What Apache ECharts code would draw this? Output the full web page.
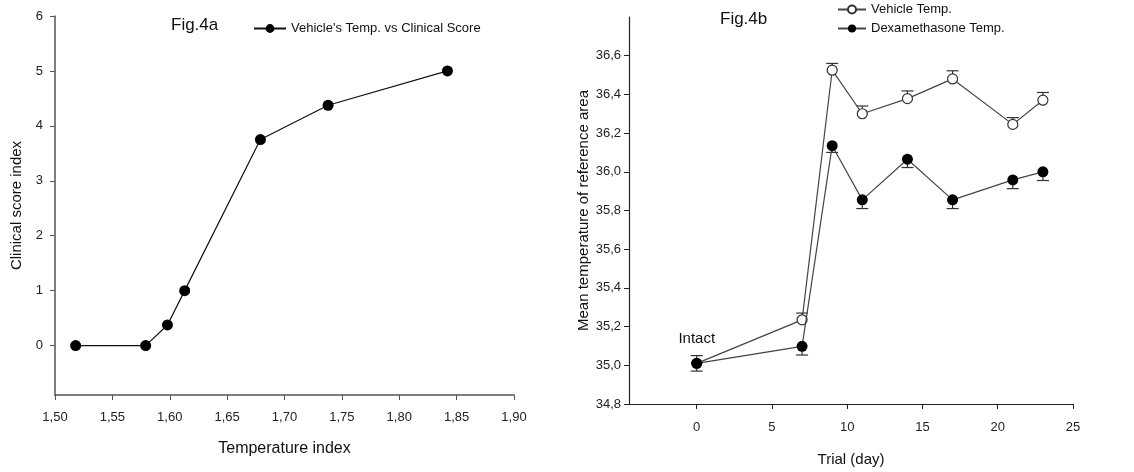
<!DOCTYPE html>
<html>
<head>
<meta charset="utf-8">
<script src="https://cdn.jsdelivr.net/npm/echarts@6/dist/echarts.min.js"></script>
<style>
  html, body { margin: 0; padding: 0; background: #fff; }
  #main { width: 1134px; height: 472px; }
</style>
</head>
<body>
<div id="main"></div>
<script>
var chart = echarts.init(document.getElementById('main'));

// Fig.4a : temperature index vs clinical score
var tempIndex = [1.518, 1.579, 1.598, 1.613, 1.679, 1.738, 1.842];
var clinicalScore = [0, 0, 0.375, 1, 3.75, 4.375, 5];
var scoreTicks = [0, 1, 2, 3, 4, 5, 6];
var tempTicks = [1.50, 1.55, 1.60, 1.65, 1.70, 1.75, 1.80, 1.85, 1.90];

// Fig.4b : mean temperature over trial days
var trialDays = [0, 7, 9, 11, 14, 17, 21, 23];
var vehicleTemp = [35.01, 35.235, 36.525, 36.30, 36.378, 36.48, 36.245, 36.37];
var vehicleUpper = [35.05, 35.27, 36.56, 36.34, 36.418, 36.522, 36.28, 36.41];
var dexTemp = [35.01, 35.098, 36.135, 35.855, 36.065, 35.855, 35.958, 36.0];
var dexLower = [34.97, 35.053, 36.10, 35.81, 36.022, 35.81, 35.913, 35.955];
var dayTicks = [0, 5, 10, 15, 20, 25];
var meanTempTicks = [34.8, 35.0, 35.2, 35.4, 35.6, 35.8, 36.0, 36.2, 36.4, 36.6];

var font = 'Liberation Sans, Arial, sans-serif';

function pairs(xs, ys) {
    return xs.map(function (x, i) { return [x, ys[i]]; });
}

function comma(d) {
    return function (v) { return v.toFixed(d).replace('.', ','); };
}

// error bar drawn from the mean to the bound, with a cap
function errorBar(params, api) {
    var x = api.value(0);
    var mean = api.coord([x, api.value(1)]);
    var end = api.coord([x, api.value(2)]);
    var style = { stroke: '#333', lineWidth: 1.2 };
    return {
        type: 'group',
        children: [
            { type: 'line', shape: { x1: mean[0], y1: mean[1], x2: end[0], y2: end[1] }, style: style },
            { type: 'line', shape: { x1: end[0] - 6, y1: end[1], x2: end[0] + 6, y2: end[1] }, style: style }
        ]
    };
}

var dexData = pairs(trialDays, dexTemp).map(function (p, i) {
    if (i === 0) {
        return {
            value: p,
            label: { show: true, formatter: 'Intact', position: 'top', distance: 12,
                color: '#111', fontSize: 15, fontFamily: font }
        };
    }
    return p;
});

var option = {
    textStyle: { fontFamily: font },
    title: [
        { text: 'Fig.4a', left: 166, top: 12, textStyle: { fontSize: 17, fontWeight: 'normal', color: '#111' } },
        { text: 'Fig.4b', left: 715, top: 6, textStyle: { fontSize: 17, fontWeight: 'normal', color: '#111' } }
    ],
    legend: [
        {
            data: ["Vehicle's Temp. vs Clinical Score"],
            left: 248, top: 17,
            itemWidth: 32, itemHeight: 11, itemGap: 6,
            textStyle: { fontSize: 13, color: '#111' }
        },
        {
            data: ['Vehicle Temp.', 'Dexamethasone Temp.'],
            orient: 'vertical',
            left: 832, top: -2,
            itemWidth: 28, itemHeight: 10, itemGap: 6,
            textStyle: { fontSize: 13, color: '#111' }
        }
    ],
    grid: [
        { left: 55, top: 16, width: 459, height: 379 },
        { left: 629, top: 17, width: 444, height: 388 }
    ],
    xAxis: [
        {
            gridIndex: 0, type: 'value', min: 1.50, max: 1.90,
            name: 'Temperature index', nameLocation: 'middle', nameGap: 46,
            nameTextStyle: { fontSize: 16, color: '#111' },
            axisLine: { onZero: false, lineStyle: { color: '#555', width: 1.5 } },
            axisTick: { customValues: tempTicks, length: 5, lineStyle: { color: '#555' } },
            axisLabel: { customValues: tempTicks, formatter: comma(2), fontSize: 13, color: '#222', margin: 16 },
            splitLine: { show: false }
        },
        {
            gridIndex: 1, type: 'value', min: -4.5, max: 25,
            name: 'Trial (day)', nameLocation: 'middle', nameGap: 48,
            nameTextStyle: { fontSize: 15, color: '#111' },
            axisLine: { onZero: false, lineStyle: { color: '#222', width: 1.2 } },
            axisTick: { customValues: dayTicks, length: 5, lineStyle: { color: '#222' } },
            axisLabel: { customValues: dayTicks, fontSize: 13, color: '#222', margin: 17 },
            splitLine: { show: false }
        }
    ],
    yAxis: [
        {
            gridIndex: 0, type: 'value', min: -0.9, max: 6,
            name: 'Clinical score index', nameLocation: 'middle', nameGap: 31,
            nameTextStyle: { fontSize: 15, color: '#111' },
            axisLine: { onZero: false, lineStyle: { color: '#555', width: 1.5 } },
            axisTick: { customValues: scoreTicks, length: 5, lineStyle: { color: '#555' } },
            axisLabel: { customValues: scoreTicks, fontSize: 13, color: '#222', margin: 12 },
            splitLine: { show: false }
        },
        {
            gridIndex: 1, type: 'value', min: 34.8, max: 36.8,
            name: 'Mean temperature of reference area', nameLocation: 'middle', nameGap: 38,
            nameTextStyle: { fontSize: 15, color: '#111' },
            axisLine: { onZero: false, lineStyle: { color: '#222', width: 1.2 } },
            axisTick: { customValues: meanTempTicks, length: 5, lineStyle: { color: '#222' } },
            axisLabel: { customValues: meanTempTicks, formatter: comma(1), fontSize: 13, color: '#222', margin: 8 },
            splitLine: { show: false }
        }
    ],
    series: [
        {
            name: "Vehicle's Temp. vs Clinical Score",
            type: 'line', xAxisIndex: 0, yAxisIndex: 0,
            data: pairs(tempIndex, clinicalScore),
            symbol: 'circle', symbolSize: 11,
            lineStyle: { color: '#111', width: 1.2 },
            itemStyle: { color: '#000' }
        },
        {
            type: 'custom', xAxisIndex: 1, yAxisIndex: 1, z: 1,
            renderItem: errorBar,
            data: trialDays.map(function (d, i) { return [d, vehicleTemp[i], vehicleUpper[i]]; })
        },
        {
            type: 'custom', xAxisIndex: 1, yAxisIndex: 1, z: 1,
            renderItem: errorBar,
            data: trialDays.map(function (d, i) { return [d, dexTemp[i], dexLower[i]]; })
        },
        {
            name: 'Vehicle Temp.',
            type: 'line', xAxisIndex: 1, yAxisIndex: 1, z: 2,
            data: pairs(trialDays, vehicleTemp),
            symbol: 'circle', symbolSize: 10,
            lineStyle: { color: '#444', width: 1.2 },
            itemStyle: { color: '#fff', borderColor: '#333', borderWidth: 1.2 }
        },
        {
            name: 'Dexamethasone Temp.',
            type: 'line', xAxisIndex: 1, yAxisIndex: 1, z: 3,
            data: dexData,
            symbol: 'circle', symbolSize: 11,
            lineStyle: { color: '#444', width: 1.2 },
            itemStyle: { color: '#000' }
        }
    ]
};

chart.setOption(option);
</script>
</body>
</html>
